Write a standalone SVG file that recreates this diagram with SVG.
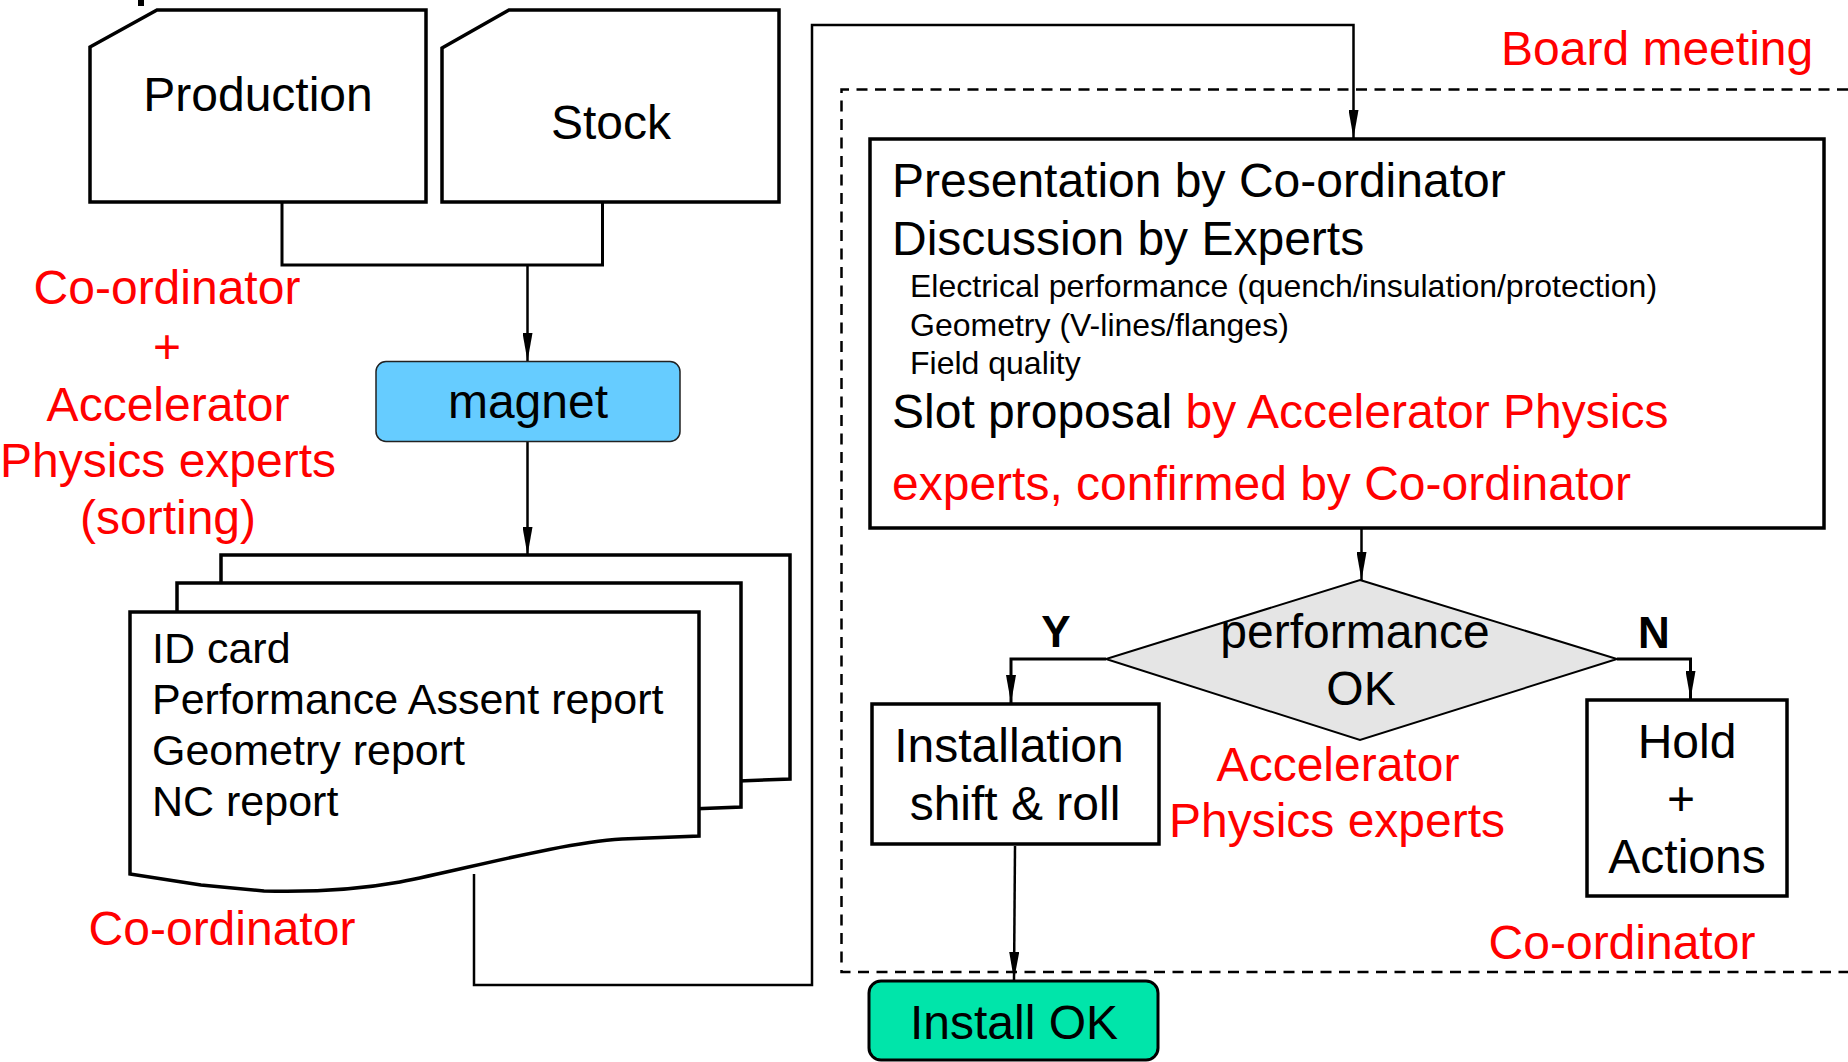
<svg xmlns="http://www.w3.org/2000/svg" width="1848" height="1062" viewBox="0 0 1848 1062">
<style>
text{font-family:"Liberation Sans",Arial,sans-serif;fill:#000}
.t47{font-size:48px}
.t42{font-size:43px}
.t32{font-size:32px}
.red{fill:#ff0000}
.yn{font-size:44px;font-weight:bold}
.box{fill:#fff;stroke:#000;stroke-width:3.5}
.doc{fill:#fff;stroke:#000;stroke-width:3.5;stroke-linejoin:miter}
.ln{fill:none;stroke:#000;stroke-width:2.5}
.lnk{fill:none;stroke:#000;stroke-width:3}
.arr{marker-end:url(#ah)}
</style>
<defs>
<marker id="ah" viewBox="0 0 28 10" refX="28" refY="5" markerWidth="28" markerHeight="10" markerUnits="userSpaceOnUse" orient="auto">
<path d="M0,0 L28,5 L0,10 Z" fill="#000"/>
</marker>
</defs>
<rect x="138" y="0" width="6" height="6" fill="#000"/>
<g id="board-meeting">
<path d="M1848,89.5 H841.5 V972 H1848" fill="none" stroke="#000" stroke-width="2.5" stroke-dasharray="11,7.5"/>
<text class="t47 red" x="1501" y="65">Board meeting</text>
</g>
<g id="connectors">
<path class="lnk" d="M282,202 V265 H602.5 V202"/>
<path class="ln arr" d="M527.5,265 V361"/>
<path class="ln arr" d="M527.5,442 V555"/>
<path class="ln arr" d="M474,874 V985 H812 V25 H1353.5 V138"/>
<path class="ln arr" d="M1361.5,529 V580"/>
<path class="lnk arr" d="M1106,659 H1011 V703"/>
<path class="lnk arr" d="M1617,659 H1690.5 V699"/>
<path class="ln arr" d="M1015,846 L1014,980"/>
</g>
<g id="production">
<path class="box" d="M90,47 L157,10 H426 V202 H90 Z"/>
<text class="t47" x="258" y="111" text-anchor="middle">Production</text>
</g>
<g id="stock">
<path class="box" d="M442,48 L509,10 H779 V202 H442 Z"/>
<text class="t47" x="611" y="139" text-anchor="middle">Stock</text>
</g>
<g id="label-sorting">
<text class="t47 red" x="167" y="304" text-anchor="middle">Co-ordinator</text>
<text class="t47 red" x="167" y="363" text-anchor="middle">+</text>
<text class="t47 red" x="168" y="421" text-anchor="middle">Accelerator</text>
<text class="t47 red" x="168" y="477" text-anchor="middle">Physics experts</text>
<text class="t47 red" x="168" y="534" text-anchor="middle">(sorting)</text>
</g>
<g id="magnet">
<rect x="376" y="361.5" width="304" height="80" rx="10" fill="#66ccff" stroke="#222" stroke-width="1.5"/>
<text class="t47" x="528" y="418" text-anchor="middle">magnet</text>
</g>
<g id="documents">
<path class="doc" d="M221,555 H790 V779 L713,782 C651,786 561,811 491,825 C441,834 391,835 355,834 L292,828 L221,817 Z"/>
<path class="doc" d="M177,583 H741 V807 L664,810 C602,814 512,839 442,853 C392,862 342,863 306,862 L243,856 L177,845 Z"/>
<path class="doc" d="M130,612 H699 V836 L622,839 C560,843 470,868 400,882 C350,891 300,892 264,891 L201,885 L130,874 Z"/>
<text class="t42" x="152" y="663">ID card</text>
<text class="t42" x="152" y="714">Performance Assent report</text>
<text class="t42" x="152" y="765">Geometry report</text>
<text class="t42" x="152" y="816">NC report</text>
</g>
<g id="label-coordinator-docs">
<text class="t47 red" x="222" y="945" text-anchor="middle">Co-ordinator</text>
</g>
<g id="presentation">
<rect class="box" x="870" y="139" width="954" height="389" stroke-width="4"/>
<text class="t47" x="892" y="197">Presentation by Co-ordinator</text>
<text class="t47" x="892" y="255">Discussion by Experts</text>
<text class="t32" x="910" y="297">Electrical performance (quench/insulation/protection)</text>
<text class="t32" x="910" y="336">Geometry (V-lines/flanges)</text>
<text class="t32" x="910" y="374">Field quality</text>
<text class="t47" x="892" y="428">Slot proposal <tspan class="red">by Accelerator Physics</tspan></text>
<text class="t47 red" x="892" y="500">experts, confirmed by Co-ordinator</text>
</g>
<g id="decision">
<polygon points="1360,580 1617,659 1360,740 1106,659" fill="#e5e5e5" stroke="#000" stroke-width="2"/>
<text class="t47" x="1355" y="648" text-anchor="middle">performance</text>
<text class="t47" x="1361" y="705" text-anchor="middle">OK</text>
<text class="yn" x="1056" y="647" text-anchor="middle">Y</text>
<text class="yn" x="1654" y="648" text-anchor="middle">N</text>
</g>
<g id="label-ap-experts">
<text class="t47 red" x="1338" y="781" text-anchor="middle">Accelerator</text>
<text class="t47 red" x="1337" y="837" text-anchor="middle">Physics experts</text>
</g>
<g id="installation">
<rect class="box" x="872" y="704" width="287" height="140" stroke-width="4"/>
<text class="t47" x="1009" y="762" text-anchor="middle">Installation</text>
<text class="t47" x="1015" y="820" text-anchor="middle">shift &amp; roll</text>
</g>
<g id="hold">
<rect class="box" x="1587" y="700" width="200" height="196" stroke-width="4"/>
<text class="t47" x="1687" y="758" text-anchor="middle">Hold</text>
<text class="t47" x="1681" y="815" text-anchor="middle">+</text>
<text class="t47" x="1687" y="873" text-anchor="middle">Actions</text>
</g>
<g id="label-coordinator-board">
<text class="t47 red" x="1622" y="959" text-anchor="middle">Co-ordinator</text>
</g>
<g id="install-ok">
<rect x="869" y="981" width="289" height="79" rx="12" fill="#00e5aa" stroke="#000" stroke-width="3"/>
<text class="t47" x="1014" y="1039" text-anchor="middle">Install OK</text>
</g>
</svg>
